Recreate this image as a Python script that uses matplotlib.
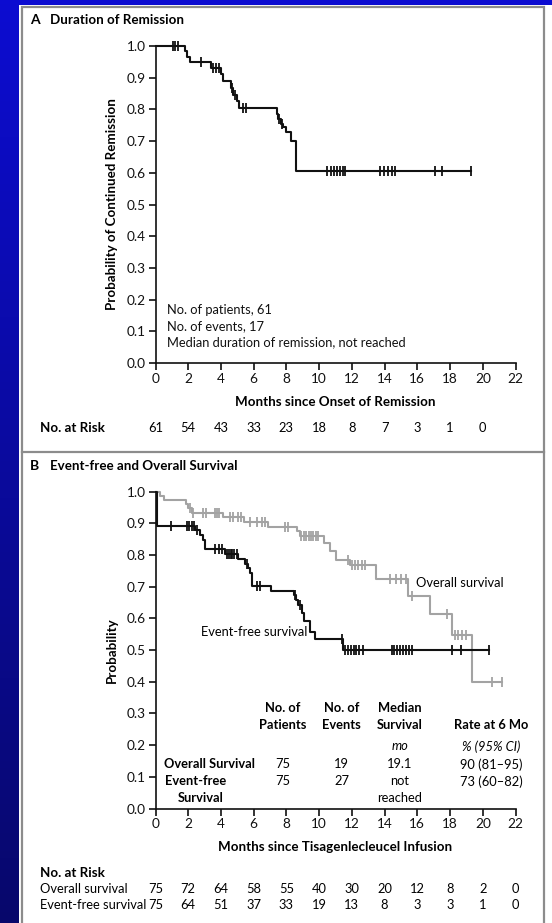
import numpy as np
import matplotlib.pyplot as plt
import matplotlib.transforms as mtransforms
from matplotlib.patches import Rectangle
from matplotlib.lines import Line2D

plt.rcParams['font.family'] = ['Lato', 'DejaVu Sans']

W, H = 552, 923

# ---- panel A: duration of remission ----
a_times = [0, 1.8, 1.95, 2.1, 3.4, 4.0, 4.1, 4.6, 4.75, 4.95, 5.1, 7.4, 7.5, 7.65, 7.8, 8.0, 8.3, 8.6]
a_surv = [1.0, 0.984, 0.966, 0.948, 0.931, 0.911, 0.891, 0.869, 0.847, 0.825, 0.803,
          0.785, 0.77, 0.755, 0.745, 0.73, 0.70, 0.606]
a_end = 19.3
a_cens = [1.05, 1.2, 1.35, 2.75, 3.5, 3.7, 3.9, 4.7, 4.85, 5.35, 5.55, 7.55, 7.7,
          10.5, 10.7, 10.9, 11.1, 11.3, 11.45, 11.6, 13.7, 13.95, 14.2, 14.45, 14.65,
          17.1, 17.5, 19.3]
a_risk_months = [0, 2, 4, 6, 8, 10, 12, 14, 16, 18, 20]
a_risk = [61, 54, 43, 33, 23, 18, 8, 7, 3, 1, 0]

# ---- panel B: overall survival ----
os_times = [0, 0.3, 0.5, 1.85, 2.0, 2.2, 4.1, 5.4, 6.85, 8.65, 8.8, 10.3, 10.65, 11.0,
            11.9, 13.5, 15.4, 16.8, 18.1, 19.35]
os_surv = [1.0, 0.987, 0.973, 0.96, 0.947, 0.933, 0.918, 0.903, 0.888, 0.874, 0.86,
           0.837, 0.811, 0.785, 0.769, 0.725, 0.671, 0.613, 0.548, 0.40]
os_end = 21.15
os_cens = [2.1, 2.3, 2.9, 3.1, 3.65, 3.75, 3.85, 4.55, 4.75, 5.05, 5.25, 5.8, 6.2, 6.5,
           6.7, 7.9, 8.1, 8.9, 9.05, 9.2, 9.35, 9.5, 9.65, 9.8, 9.95, 11.75, 12.0, 12.2,
           12.4, 12.6, 12.8, 14.3, 14.7, 15.0, 15.3, 15.65, 17.8, 18.3, 18.5, 18.7, 18.95,
           20.55, 21.15]

# ---- panel B: event-free survival ----
efs_times = [0, 0.07, 2.4, 2.7, 2.88, 3.03, 4.25, 5.06, 5.47, 5.67, 5.78, 5.88, 7.04,
             8.47, 8.6, 8.73, 8.94, 9.08, 9.44, 9.75, 11.48]
efs_surv = [1.0, 0.89, 0.877, 0.863, 0.848, 0.818, 0.803, 0.786, 0.772, 0.758, 0.744,
            0.703, 0.687, 0.672, 0.657, 0.641, 0.616, 0.592, 0.558, 0.534, 0.50]
efs_end = 20.35
efs_cens = [0.95, 1.9, 2.05, 2.2, 2.35, 2.55, 3.65, 3.85, 4.05, 4.35, 4.5, 4.6, 4.7,
            4.8, 4.95, 5.6, 6.2, 6.4, 8.55, 8.8, 11.38, 11.6, 11.75, 11.95, 12.1, 12.25,
            12.45, 12.65, 14.45, 14.6, 14.75, 14.95, 15.15, 15.3, 15.5, 15.7, 18.1,
            18.65, 20.35]

b_risk_months = [0, 2, 4, 6, 8, 10, 12, 14, 16, 18, 20, 22]
os_risk = [75, 72, 64, 58, 55, 40, 30, 20, 12, 8, 2, 0]
efs_risk = [75, 64, 51, 37, 33, 19, 13, 8, 3, 3, 1, 0]

BLACK = '#111111'
GRAY = '#a3a3a3'


def fx(px):
    return px / W


def fy(py):
    return 1 - py / H


fig = plt.figure(figsize=(W / 100, H / 100), dpi=100)

# blue slide background with gradient
bg = fig.add_axes([0, 0, 1, 1])
grad = np.linspace(0, 1, 256).reshape(-1, 1)
top = np.array([0.05, 0.05, 0.82])
bot = np.array([0.03, 0.03, 0.42])
img = top[None, None, :] * (1 - grad[:, :, None]) + bot[None, None, :] * grad[:, :, None]
bg.imshow(img, aspect='auto', extent=[0, 1, 0, 1])
bg.set_axis_off()

# white figure panel with gray frame
fig.add_artist(Rectangle((fx(19), 0), 1 - fx(19), fy(5), transform=fig.transFigure,
                         facecolor='white', edgecolor='none', zorder=1))
fig.add_artist(Rectangle((fx(21.5), -0.01), fx(543.5) - fx(21.5), fy(6.5) + 0.01,
                         transform=fig.transFigure, facecolor='none',
                         edgecolor='#8c8c8c', lw=1.6, zorder=2))
fig.add_artist(Line2D([fx(21.5), fx(543.5)], [fy(452), fy(452)], transform=fig.transFigure,
                      color='#8c8c8c', lw=1.6, zorder=2))


def km(ax, times, surv, end, cens, color):
    x = list(times) + [end]
    y = list(surv) + [surv[-1]]
    ax.step(x, y, where='post', color=color, lw=1.5, clip_on=False, zorder=3)
    idx = np.searchsorted(times, cens, side='right') - 1
    cy = np.array(surv)[idx]
    ax.plot(cens, cy, ls='none', marker='|', ms=7.5, mew=1.3, color=color,
            clip_on=False, zorder=3)


def style(ax):
    ax.set_xlim(0, 22)
    ax.set_ylim(0, 1.0)
    ax.set_xticks(range(0, 23, 2))
    ax.set_yticks(np.arange(0, 1.01, 0.1))
    ax.set_yticklabels([f'{v:.1f}' for v in np.arange(0, 1.01, 0.1)])
    for s in ['top', 'right']:
        ax.spines[s].set_visible(False)
    for s in ['left', 'bottom']:
        ax.spines[s].set_linewidth(1.2)
        ax.spines[s].set_color(BLACK)
    ax.tick_params(direction='out', length=5, width=1.2, color=BLACK,
                   labelsize=9.8, pad=2, labelcolor=BLACK)
    ax.set_facecolor('none')


ax_h = 317 / H
ax_w = (515.5 - 155.5) / W

# ---- panel A ----
axA = fig.add_axes([fx(155.5), fy(363), ax_w, ax_h])
axA.set_zorder(5)
style(axA)
km(axA, a_times, a_surv, a_end, a_cens, BLACK)
axA.set_ylabel('Probability of Continued Remission', fontsize=9.6, fontweight='bold',
               labelpad=6)
axA.set_xlabel('Months since Onset of Remission', fontsize=9.6, fontweight='bold',
               labelpad=8)
for i, line in enumerate(['No. of patients, 61', 'No. of events, 17',
                          'Median duration of remission, not reached']):
    axA.text(0.7, 0.167 - i * 0.051, line, fontsize=9.3, va='center', ha='left',
             color=BLACK)

fig.text(fx(30), fy(20), 'A', fontsize=10, fontweight='bold', va='center')
fig.text(fx(50), fy(20), 'Duration of Remission', fontsize=9.6, fontweight='bold',
         va='center')

trA = mtransforms.blended_transform_factory(axA.transData, fig.transFigure)
fig.text(fx(40), fy(428), 'No. at Risk', fontsize=9.6, fontweight='bold', va='center')
for m, n in zip(a_risk_months, a_risk):
    fig.text(m, fy(428), str(n), transform=trA, ha='center', va='center', fontsize=9.3)

# ---- panel B ----
axB = fig.add_axes([fx(155.5), fy(808.5), ax_w, ax_h])
axB.set_zorder(5)
style(axB)
km(axB, os_times, os_surv, os_end, os_cens, GRAY)
km(axB, efs_times, efs_surv, efs_end, efs_cens, BLACK)
axB.set_ylabel('Probability', fontsize=9.6, fontweight='bold', labelpad=6)
axB.set_xlabel('Months since Tisagenlecleucel Infusion', fontsize=9.6, fontweight='bold',
               labelpad=8)
axB.text(15.95, 0.712, 'Overall survival', fontsize=9.3, va='center', ha='left')
axB.text(2.8, 0.558, 'Event-free survival', fontsize=9.3, va='center', ha='left')

# summary table
cols = [7.79, 11.37, 14.94, 20.5]
tb = dict(fontsize=9.3, ha='center', va='center')
axB.text(cols[0], 0.317, 'No. of', fontweight='bold', **tb)
axB.text(cols[0], 0.262, 'Patients', fontweight='bold', **tb)
axB.text(cols[1], 0.317, 'No. of', fontweight='bold', **tb)
axB.text(cols[1], 0.262, 'Events', fontweight='bold', **tb)
axB.text(cols[2], 0.317, 'Median', fontweight='bold', **tb)
axB.text(cols[2], 0.262, 'Survival', fontweight='bold', **tb)
axB.text(cols[3], 0.262, 'Rate at 6 Mo', fontweight='bold', **tb)
axB.text(cols[2], 0.196, 'mo', style='italic', **tb)
axB.text(cols[3], 0.196, '% (95% CI)', style='italic', **tb)
axB.text(0.52, 0.139, 'Overall Survival', fontweight='bold', fontsize=9.3, va='center')
axB.text(0.6, 0.086, 'Event-free', fontweight='bold', fontsize=9.3, va='center')
axB.text(1.35, 0.034, 'Survival', fontweight='bold', fontsize=9.3, va='center')
for c, v in zip(cols, ['75', '19', '19.1', '90 (81\u201395)']):
    axB.text(c, 0.139, v, **tb)
for c, v in zip(cols, ['75', '27', 'not', '73 (60\u201382)']):
    axB.text(c, 0.086, v, **tb)
axB.text(cols[2], 0.034, 'reached', **tb)

fig.text(fx(30), fy(466), 'B', fontsize=10, fontweight='bold', va='center')
fig.text(fx(50), fy(466), 'Event-free and Overall Survival', fontsize=9.6,
         fontweight='bold', va='center')

trB = mtransforms.blended_transform_factory(axB.transData, fig.transFigure)
fig.text(fx(40), fy(873), 'No. at Risk', fontsize=9.6, fontweight='bold', va='center')
fig.text(fx(40), fy(889), 'Overall survival', fontsize=9.3, va='center')
fig.text(fx(40), fy(905), 'Event-free survival', fontsize=9.3, va='center')
for m, n in zip(b_risk_months, os_risk):
    fig.text(m, fy(889), str(n), transform=trB, ha='center', va='center', fontsize=9.3)
for m, n in zip(b_risk_months, efs_risk):
    fig.text(m, fy(905), str(n), transform=trB, ha='center', va='center', fontsize=9.3)

fig.savefig('out.png', dpi=100)
